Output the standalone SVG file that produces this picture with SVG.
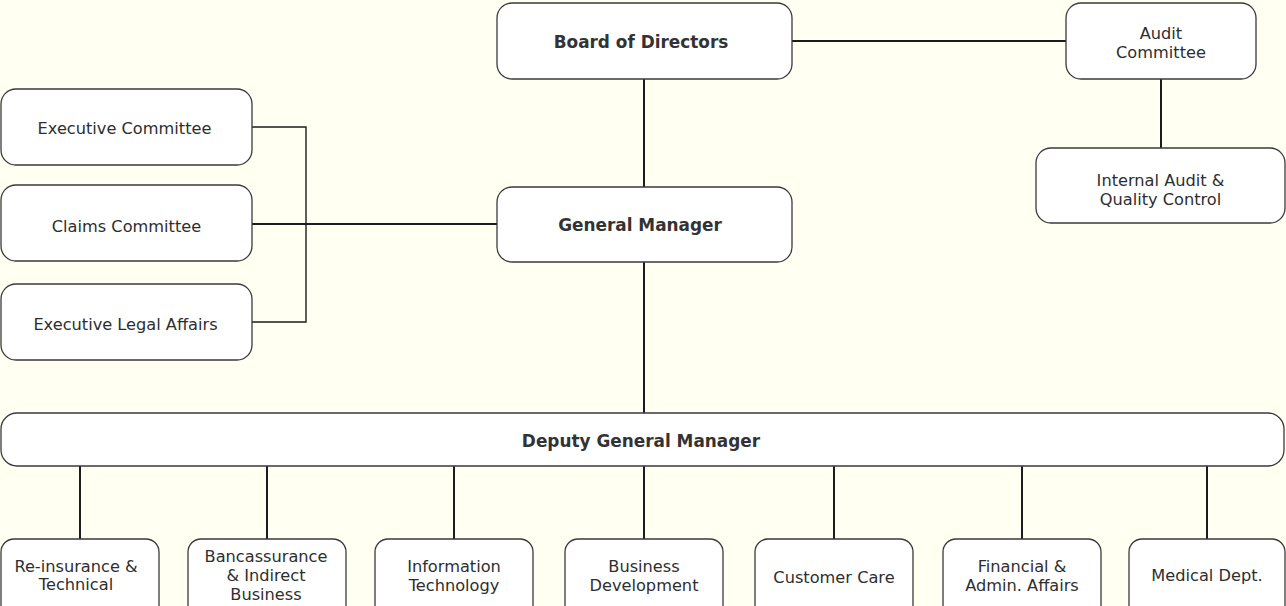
<svg xmlns="http://www.w3.org/2000/svg" width="1286" height="606" viewBox="0 0 1286 606">
  <style>
    .box { fill: #ffffff; stroke: #3a3a3a; stroke-width: 1.3; }
    .wire { fill: none; stroke: #1c1c1c; stroke-width: 2; }
    .thin { fill: none; stroke: #1c1c1c; stroke-width: 1.4; }
    text { font-family: "DejaVu Sans", Verdana, sans-serif; fill: #2e2e2e; text-anchor: middle; dominant-baseline: central; }
    .lbl { font-size: 16.2px; }
    .ttl { font-size: 16.9px; font-weight: bold; fill: #333333; }
  </style>
  <rect x="0" y="0" width="1286" height="606" fill="#fffff2"/>

  <!-- connectors -->
  <g id="connectors">
    <line class="wire" x1="792" y1="41" x2="1066" y2="41"/>
    <line class="wire" x1="1161" y1="79" x2="1161" y2="148"/>
    <line class="wire" x1="644" y1="79" x2="644" y2="187"/>
    <line class="wire" x1="644" y1="262" x2="644" y2="413"/>
    <line class="wire" x1="252" y1="224" x2="497" y2="224"/>
    <polyline class="thin" points="252,127 306,127 306,322 252,322"/>
    <line class="wire" x1="80" y1="466" x2="80" y2="539"/>
    <line class="wire" x1="267" y1="466" x2="267" y2="539"/>
    <line class="wire" x1="454" y1="466" x2="454" y2="539"/>
    <line class="wire" x1="644" y1="466" x2="644" y2="539"/>
    <line class="wire" x1="834" y1="466" x2="834" y2="539"/>
    <line class="wire" x1="1022" y1="466" x2="1022" y2="539"/>
    <line class="wire" x1="1207" y1="466" x2="1207" y2="539"/>
  </g>

  <!-- top level -->
  <g id="board">
    <rect class="box" x="497" y="3" width="295" height="76" rx="15"/>
    <text class="ttl" x="641" y="42">Board of Directors</text>
  </g>
  <g id="audit-committee">
    <rect class="box" x="1066" y="3" width="190" height="76" rx="15"/>
    <text class="lbl" x="1161" y="33">Audit</text>
    <text class="lbl" x="1161" y="52">Committee</text>
  </g>
  <g id="internal-audit">
    <rect class="box" x="1036" y="148" width="249" height="75" rx="15"/>
    <text class="lbl" x="1160.5" y="180">Internal Audit &amp;</text>
    <text class="lbl" x="1160.5" y="199">Quality Control</text>
  </g>

  <!-- committees -->
  <g id="executive-committee">
    <rect class="box" x="1" y="89" width="251" height="76" rx="15"/>
    <text class="lbl" x="124.5" y="128">Executive Committee</text>
  </g>
  <g id="claims-committee">
    <rect class="box" x="1" y="185" width="251" height="76" rx="15"/>
    <text class="lbl" x="126.5" y="226">Claims Committee</text>
  </g>
  <g id="legal-affairs">
    <rect class="box" x="1" y="284" width="251" height="76" rx="15"/>
    <text class="lbl" x="125.5" y="324">Executive Legal Affairs</text>
  </g>

  <g id="general-manager">
    <rect class="box" x="497" y="187" width="295" height="75" rx="15"/>
    <text class="ttl" x="640" y="225">General Manager</text>
  </g>

  <g id="deputy-general-manager">
    <rect class="box" x="1" y="413" width="1283" height="53" rx="16"/>
    <text class="ttl" x="641" y="441">Deputy General Manager</text>
  </g>

  <!-- departments -->
  <g id="reinsurance">
    <rect class="box" x="1" y="539" width="158" height="82" rx="13"/>
    <text class="lbl" x="76" y="566">Re-insurance &amp;</text>
    <text class="lbl" x="76" y="584">Technical</text>
  </g>
  <g id="bancassurance">
    <rect class="box" x="188" y="539" width="158" height="82" rx="13"/>
    <text class="lbl" x="266" y="556">Bancassurance</text>
    <text class="lbl" x="266" y="575">&amp; Indirect</text>
    <text class="lbl" x="266" y="594">Business</text>
  </g>
  <g id="information-technology">
    <rect class="box" x="375" y="539" width="158" height="82" rx="13"/>
    <text class="lbl" x="454" y="566">Information</text>
    <text class="lbl" x="454" y="585">Technology</text>
  </g>
  <g id="business-development">
    <rect class="box" x="565" y="539" width="158" height="82" rx="13"/>
    <text class="lbl" x="644" y="566">Business</text>
    <text class="lbl" x="644" y="585">Development</text>
  </g>
  <g id="customer-care">
    <rect class="box" x="755" y="539" width="158" height="82" rx="13"/>
    <text class="lbl" x="834" y="577">Customer Care</text>
  </g>
  <g id="financial-admin">
    <rect class="box" x="943" y="539" width="158" height="82" rx="13"/>
    <text class="lbl" x="1022" y="566">Financial &amp;</text>
    <text class="lbl" x="1022" y="585">Admin. Affairs</text>
  </g>
  <g id="medical">
    <rect class="box" x="1129" y="539" width="156" height="82" rx="13"/>
    <text class="lbl" x="1207" y="575">Medical Dept.</text>
  </g>
</svg>
